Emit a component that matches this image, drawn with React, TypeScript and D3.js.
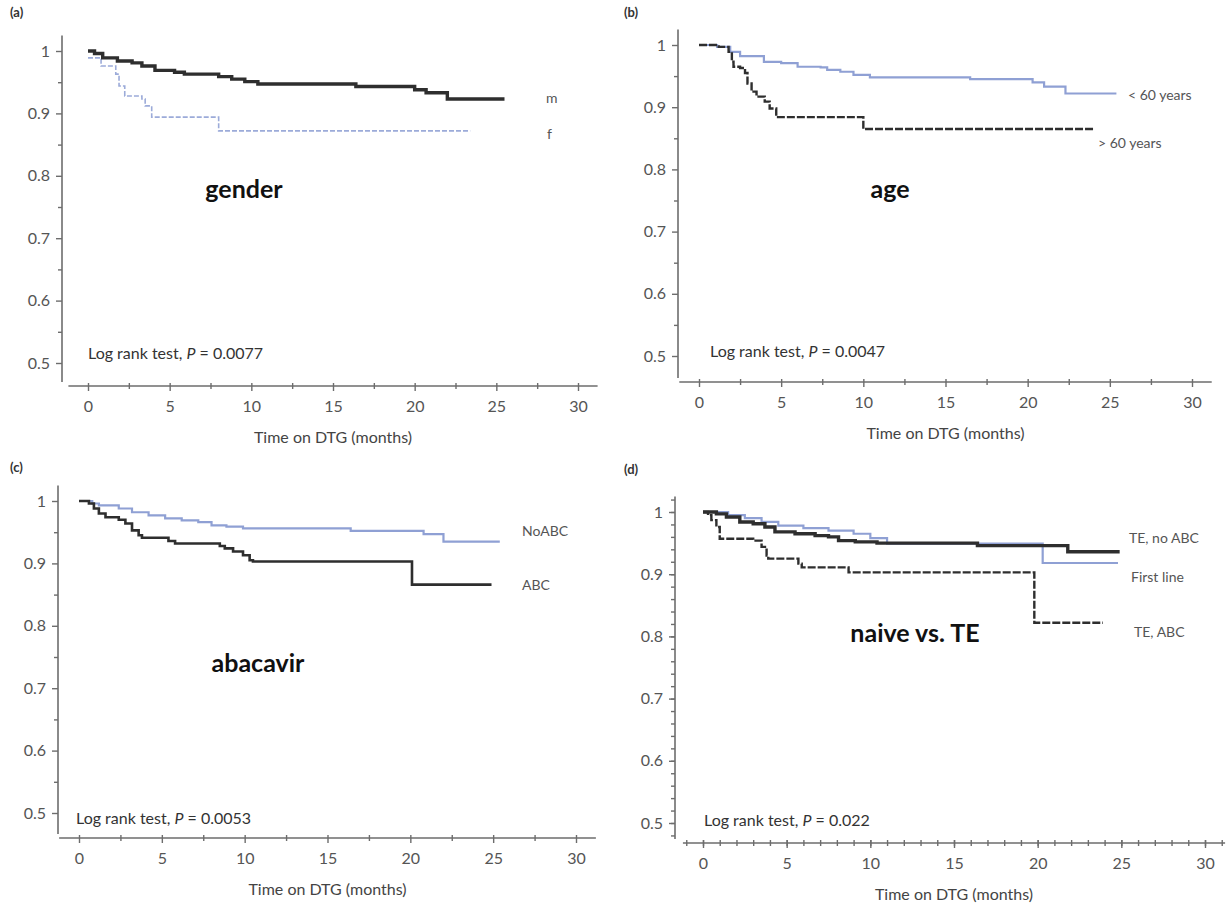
import React, { useEffect, useRef } from 'react';
import * as d3 from 'd3';

// ---------- data (months, survival probability) ----------
// (a) gender
const A_M_T = [0, 0.4, 0.9, 1.8, 2.7, 3.3, 4.1, 5.3, 5.9, 8.0, 8.8, 9.6, 10.4, 16.4, 20.0, 20.7, 22.0, 25.5];
const A_M_V = [1.0, 0.996, 0.989, 0.984, 0.981, 0.976, 0.969, 0.966, 0.963, 0.959, 0.955, 0.951, 0.947, 0.943, 0.938, 0.933, 0.923, 0.923];
const A_F_T = [0, 0.8, 1.7, 1.9, 2.25, 3.3, 3.5, 3.9, 8.0, 23.4];
const A_F_V = [0.989, 0.976, 0.963, 0.944, 0.928, 0.923, 0.912, 0.894, 0.872, 0.872];
// (b) age
const B_Y_T = [0, 1.1, 1.9, 2.5, 3.95, 5.0, 6.0, 7.4, 7.8, 8.6, 9.4, 10.4, 16.5, 20.3, 21.0, 22.3, 25.4];
const B_Y_V = [1.0, 0.997, 0.989, 0.982, 0.973, 0.971, 0.965, 0.964, 0.96, 0.957, 0.952, 0.948, 0.945, 0.94, 0.933, 0.922, 0.922];
const B_O_T = [0, 1.2, 1.8, 2.0, 2.1, 2.5, 2.8, 2.95, 3.2, 3.5, 4.0, 4.3, 4.7, 10.0, 24.0];
const B_O_V = [1.0, 0.997, 0.989, 0.973, 0.965, 0.963, 0.955, 0.938, 0.925, 0.917, 0.909, 0.898, 0.884, 0.865, 0.865];
// (c) abacavir
const C_N_T = [0, 0.8, 1.2, 2.4, 3.2, 4.2, 5.2, 6.2, 7.2, 8.0, 8.9, 9.9, 16.4, 20.8, 22.0, 25.4];
const C_N_V = [1.0, 0.996, 0.993, 0.988, 0.982, 0.977, 0.972, 0.969, 0.966, 0.961, 0.959, 0.956, 0.952, 0.947, 0.935, 0.935];
const C_A_T = [0, 0.6, 0.9, 1.2, 1.6, 2.4, 2.8, 3.2, 3.6, 3.8, 5.4, 5.8, 8.5, 8.8, 9.3, 9.9, 10.3, 10.5, 20.1, 24.9];
const C_A_V = [1.0, 0.996, 0.988, 0.98, 0.974, 0.97, 0.964, 0.953, 0.945, 0.941, 0.936, 0.932, 0.928, 0.924, 0.919, 0.913, 0.905, 0.903, 0.866, 0.866];
// (d) naive vs. TE
const D_N_T = [0, 0.8, 1.4, 2.2, 3.0, 3.7, 4.3, 5.5, 6.7, 7.5, 8.1, 9.1, 10.4, 16.4, 21.8, 24.9];
const D_N_V = [1.0, 0.997, 0.992, 0.984, 0.981, 0.976, 0.968, 0.965, 0.962, 0.96, 0.954, 0.952, 0.95, 0.946, 0.936, 0.936];
const D_F_T = [0, 1.5, 2.5, 3.5, 4.5, 6.0, 7.5, 9.0, 10.0, 11.0, 20.3, 24.8];
const D_F_V = [1.0, 0.995, 0.99, 0.984, 0.978, 0.974, 0.97, 0.965, 0.958, 0.949, 0.918, 0.918];
const D_A_T = [0, 0.3, 0.5, 0.8, 1.0, 3.0, 3.5, 3.8, 3.9, 5.7, 5.9, 8.7, 19.8, 23.9];
const D_A_V = [1.0, 0.995, 0.987, 0.976, 0.957, 0.954, 0.944, 0.93, 0.925, 0.917, 0.911, 0.903, 0.822, 0.822];

// ---------- text ----------
const PANEL_LETTERS = ['(a)', '(b)', '(c)', '(d)'];
const PANEL_TITLES = ['gender', 'age', 'abacavir', 'naive vs. TE'];
const P_VALUES = ['0.0077', '0.0047', '0.0053', '0.022'];
const A_LABELS = ['m', 'f'];
const B_LABELS = ['< 60 years', '> 60 years'];
const C_LABELS = ['NoABC', 'ABC'];
const D_LABELS = ['TE, no ABC', 'First line', 'TE, ABC'];
const X_TICKS = [0, 5, 10, 15, 20, 25, 30];
const Y_TICKS = [0.5, 0.6, 0.7, 0.8, 0.9, 1];
const X_TITLE = 'Time on DTG (months)';

const FONT = 'Lato, "Open Sans", sans-serif';
const DARK = '#2e2e2e';
const BLUE = '#8fa0d4';

const STYLES: any = {
  darkThick: { stroke: DARK, width: 3.4, dash: null },
  dark: { stroke: DARK, width: 2.6, dash: null },
  darkDash: { stroke: DARK, width: 2.4, dash: '8 2' },
  blue: { stroke: BLUE, width: 2.2, dash: null },
  blueDash: { stroke: '#9cabd9', width: 1.6, dash: '5 2' },
};

const zip = (t: number[], v: number[]) => t.map((d, i) => [d, v[i]]);

const PANELS: any[] = [
  {
    letter: PANEL_LETTERS[0], title: PANEL_TITLES[0], p: P_VALUES[0],
    L: { yAxisX: 62, x0: 88, x30: 578, y1: 51, y05: 363, xAxisY: 386, letterX: 10, letterY: 17, titleX: 244, titleY: 198, pX: 88, pY: 359, dense: false },
    series: [
      { data: zip(A_F_T, A_F_V), style: 'blueDash' },
      { data: zip(A_M_T, A_M_V), style: 'darkThick' },
    ],
    labels: [
      { text: A_LABELS[0], x: 546, y: 103 },
      { text: A_LABELS[1], x: 547, y: 139 },
    ],
  },
  {
    letter: PANEL_LETTERS[1], title: PANEL_TITLES[1], p: P_VALUES[1],
    L: { yAxisX: 678, x0: 699, x30: 1192, y1: 45, y05: 356, xAxisY: 382, letterX: 624, letterY: 17, titleX: 890, titleY: 198, pX: 710, pY: 357, dense: false },
    series: [
      { data: zip(B_Y_T, B_Y_V), style: 'blue' },
      { data: zip(B_O_T, B_O_V), style: 'darkDash' },
    ],
    labels: [
      { text: B_LABELS[0], x: 1128, y: 100 },
      { text: B_LABELS[1], x: 1098, y: 148 },
    ],
  },
  {
    letter: PANEL_LETTERS[2], title: PANEL_TITLES[2], p: P_VALUES[2],
    L: { yAxisX: 58, x0: 79, x30: 576, y1: 501, y05: 813, xAxisY: 838, letterX: 10, letterY: 472, titleX: 258, titleY: 672, pX: 76, pY: 824, dense: false },
    series: [
      { data: zip(C_N_T, C_N_V), style: 'blue' },
      { data: zip(C_A_T, C_A_V), style: 'dark' },
    ],
    labels: [
      { text: C_LABELS[0], x: 522, y: 536 },
      { text: C_LABELS[1], x: 522, y: 590 },
    ],
  },
  {
    letter: PANEL_LETTERS[3], title: PANEL_TITLES[3], p: P_VALUES[3],
    L: { yAxisX: 675, x0: 703, x30: 1205, y1: 512, y05: 823, xAxisY: 843, letterX: 624, letterY: 474, titleX: 915, titleY: 642, pX: 704, pY: 826, dense: true },
    series: [
      { data: zip(D_F_T, D_F_V), style: 'blue' },
      { data: zip(D_A_T, D_A_V), style: 'darkDash' },
      { data: zip(D_N_T, D_N_V), style: 'darkThick' },
    ],
    labels: [
      { text: D_LABELS[0], x: 1129, y: 543 },
      { text: D_LABELS[1], x: 1131, y: 582 },
      { text: D_LABELS[2], x: 1134, y: 637 },
    ],
  },
];

export default function App() {
  const ref = useRef<SVGSVGElement>(null);

  useEffect(() => {
    const svg = d3.select(ref.current);
    svg.selectAll('*').remove();

    PANELS.forEach((P) => {
      const L = P.L;
      const g = svg.append('g');
      const x = d3.scaleLinear().domain([0, 30]).range([L.x0, L.x30]);
      const y = d3.scaleLinear().domain([0.5, 1]).range([L.y05, L.y1]);
      const axisColor = '#6d6d6d';
      const textColor = '#555';

      // y axis
      const yMinor = L.dense ? d3.range(0.48, 1.021, 0.02) : d3.range(0.55, 1.0, 0.1);
      const yg = g.append('g').attr('transform', `translate(${L.yAxisX},0)`);
      yg.call(d3.axisLeft(y).tickValues(Y_TICKS).tickSize(6).tickPadding(6)
        .tickFormat((d: any) => (d === 1 ? '1' : d3.format('.1f')(d))) as any);
      const ygm = g.append('g').attr('transform', `translate(${L.yAxisX},0)`);
      ygm.call(d3.axisLeft(y).tickValues(yMinor).tickSize(4).tickFormat(() => '') as any);
      [yg, ygm].forEach((s) => {
        s.select('.domain').remove();
        s.selectAll('line').attr('stroke', axisColor).attr('stroke-width', 1.4);
        s.selectAll('text').attr('font-family', FONT).attr('font-size', 16).attr('fill', textColor);
      });
      g.append('line')
        .attr('x1', L.yAxisX).attr('x2', L.yAxisX)
        .attr('y1', y(1.025)).attr('y2', L.xAxisY - 4)
        .attr('stroke', axisColor).attr('stroke-width', 1.6);

      // x axis
      const xMinor = L.dense ? d3.range(-1, 31.01, 1) : d3.range(2.5, 30, 5);
      const xg = g.append('g').attr('transform', `translate(0,${L.xAxisY})`);
      xg.call(d3.axisBottom(x).tickValues(X_TICKS).tickSize(5).tickPadding(10).tickFormat(d3.format('d')) as any);
      const xgm = g.append('g').attr('transform', `translate(0,${L.xAxisY})`);
      xgm.call(d3.axisBottom(x).tickValues(xMinor).tickSize(3).tickFormat(() => '') as any);
      [xg, xgm].forEach((s) => {
        s.select('.domain').remove();
        s.selectAll('line').attr('stroke', axisColor).attr('stroke-width', 1.4).attr('y1', -3);
        s.selectAll('text').attr('font-family', FONT).attr('font-size', 16).attr('fill', textColor);
      });
      g.append('line')
        .attr('x1', x(-1.2)).attr('x2', x(31.2))
        .attr('y1', L.xAxisY).attr('y2', L.xAxisY)
        .attr('stroke', axisColor).attr('stroke-width', 1.6);

      g.append('text')
        .attr('x', (L.x0 + L.x30) / 2).attr('y', L.xAxisY + 57)
        .attr('text-anchor', 'middle').attr('font-family', FONT).attr('font-size', 16)
        .attr('fill', '#444').text(X_TITLE);

      // curves
      const line = d3.line<any>().x((d) => x(d[0])).y((d) => y(d[1])).curve(d3.curveStepAfter);
      P.series.forEach((s: any) => {
        const st = STYLES[s.style];
        const path = g.append('path').attr('d', line(s.data))
          .attr('fill', 'none').attr('stroke', st.stroke).attr('stroke-width', st.width)
          .attr('stroke-linejoin', 'miter');
        if (st.dash) path.attr('stroke-dasharray', st.dash);
      });

      // labels
      P.labels.forEach((lb: any) => {
        g.append('text').attr('x', lb.x).attr('y', lb.y)
          .attr('font-family', FONT).attr('font-size', 14).attr('fill', '#555').text(lb.text);
      });

      g.append('text').attr('x', L.letterX).attr('y', L.letterY)
        .attr('font-family', FONT).attr('font-size', 13).attr('font-weight', 700)
        .attr('fill', '#333').text(P.letter);

      g.append('text').attr('x', L.titleX).attr('y', L.titleY).attr('text-anchor', 'middle')
        .attr('font-family', FONT).attr('font-size', 25).attr('font-weight', 700)
        .attr('fill', '#111').text(P.title);

      const pt = g.append('text').attr('x', L.pX).attr('y', L.pY)
        .attr('font-family', FONT).attr('font-size', 16).attr('fill', '#333');
      pt.append('tspan').text('Log rank test, ');
      pt.append('tspan').attr('font-style', 'italic').text('P');
      pt.append('tspan').text(' = ' + P.p);
    });
  }, []);

  return (
    <svg
      ref={ref}
      width={1232}
      height={910}
      style={{ position: 'absolute', left: 0, top: 0, background: '#fff', display: 'block' }}
    />
  );
}
